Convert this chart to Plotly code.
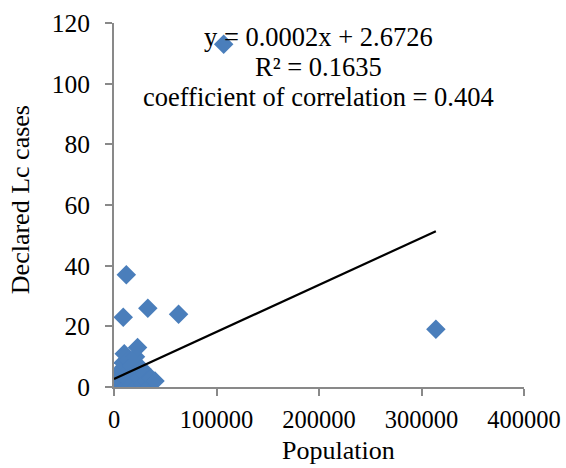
import plotly.graph_objects as go

# Data
population = [500, 1000, 2000, 3000, 4000, 5000, 5500, 6000, 7000, 8000, 9000,
              10000, 11000, 12000, 13000, 14000, 15000, 16000, 17000, 18000,
              20000, 21000, 22000, 23000, 25000, 27000, 28000, 30000, 32000,
              34000, 36000, 40000,
              9000, 12000, 33000, 63000, 107000, 314000]
cases = [3, 0, 1, 0, 2, 1, 4, 0, 2, 6, 8,
         11, 3, 0, 5, 9, 2, 0, 7, 1,
         4, 10, 0, 13, 3, 6, 1, 4, 2,
         0, 3, 2,
         23, 37, 26, 24, 113, 19]

trend_slope = 0.000155
trend_intercept = 2.6726
trend_x = [0, max(population)]
trend_y = [trend_intercept + trend_slope * v for v in trend_x]

x_ticks = [0, 100000, 200000, 300000, 400000]
y_ticks = [0, 20, 40, 60, 80, 100, 120]

eq_lines = ["y = 0.0002x + 2.6726", "R² = 0.1635", "coefficient of correlation = 0.404"]

FONT = "Liberation Serif, Times New Roman, serif"
AXIS_COLOR = "#898989"

fig = go.Figure()
fig.add_trace(go.Scatter(
    x=population, y=cases, mode="markers",
    marker=dict(symbol="diamond", size=15, color="#4A7EBB", line=dict(width=0)),
    showlegend=False, hoverinfo="x+y"))
fig.add_trace(go.Scatter(
    x=trend_x, y=trend_y, mode="lines",
    line=dict(color="black", width=2.2), showlegend=False, hoverinfo="skip"))

fig.update_layout(
    width=566, height=468,
    margin=dict(l=114, r=42, t=23, b=81, autoexpand=False),
    paper_bgcolor="white", plot_bgcolor="white",
    font=dict(family=FONT, size=26, color="black"),
    xaxis=dict(range=[0, 400000], tickvals=x_ticks, ticktext=[str(v) for v in x_ticks],
               automargin=False,
               showgrid=False, zeroline=False, showline=True, linecolor=AXIS_COLOR,
               linewidth=2, ticks="outside", ticklen=7, tickwidth=2, tickcolor=AXIS_COLOR,
               tickfont=dict(family=FONT, size=24.5), ticklabelstandoff=3),
    yaxis=dict(range=[0, 120], tickvals=y_ticks, automargin=False,
               showgrid=False, zeroline=False, showline=True, linecolor=AXIS_COLOR,
               linewidth=2, ticks="outside", ticklen=7, tickwidth=2, tickcolor=AXIS_COLOR,
               tickfont=dict(family=FONT, size=25.5), ticklabelstandoff=10),
)

ann_y = [0.962, 0.880, 0.797]
for txt, yy in zip(eq_lines, ann_y):
    fig.add_annotation(text=txt, xref="paper", yref="paper", x=0.4976, y=yy,
                       xanchor="center", yanchor="middle", showarrow=False,
                       font=dict(family=FONT, size=26.5, color="black"))

# axis titles
fig.add_annotation(text="Population", xref="paper", yref="paper",
                   x=(338 - 114) / 410, y=(387 - 451) / 364.3,
                   xanchor="center", yanchor="middle", showarrow=False,
                   font=dict(family=FONT, size=26))
fig.add_annotation(text="Declared Lc cases", xref="paper", yref="paper",
                   x=(20 - 114) / 410, y=(387 - 200) / 364.3, textangle=-90,
                   xanchor="center", yanchor="middle", showarrow=False,
                   font=dict(family=FONT, size=26))

fig.write_html("out.html", config={"displayModeBar": False},
               post_script="document.body.style.margin='0px';document.body.style.overflow='hidden';")
